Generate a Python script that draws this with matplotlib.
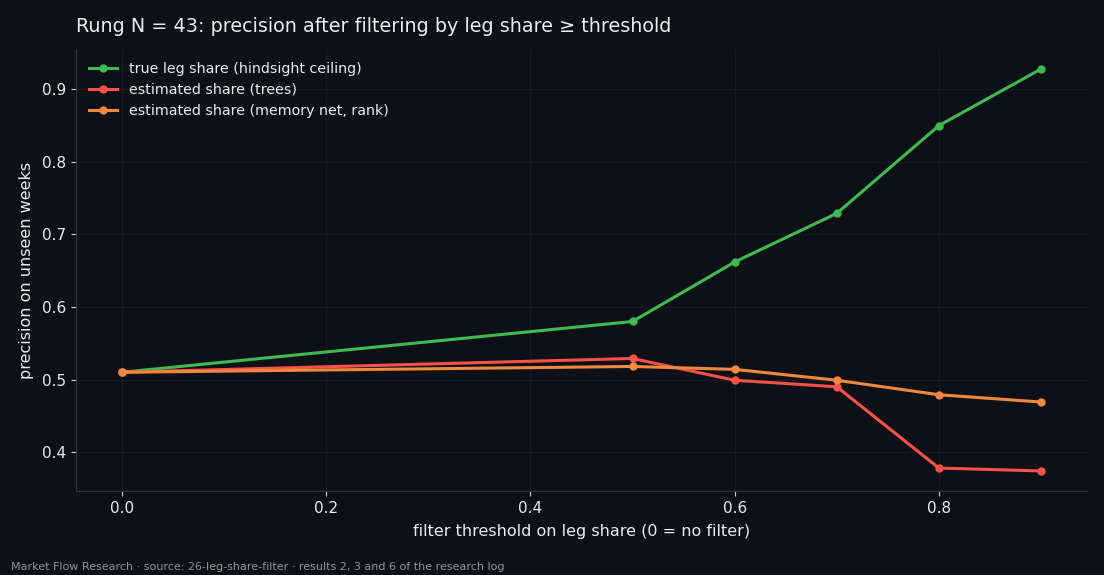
import matplotlib.pyplot as plt

# filter thresholds (0 = no filter)
thresholds = [0.0, 0.5, 0.6, 0.7, 0.8, 0.9]

# precision on unseen weeks per method
true_share = [0.510, 0.580, 0.662, 0.729, 0.850, 0.928]
trees_share = [0.510, 0.529, 0.499, 0.490, 0.378, 0.374]
memnet_share = [0.510, 0.518, 0.514, 0.499, 0.479, 0.469]

series = [
    ("true leg share (hindsight ceiling)", true_share, "#3fb950"),
    ("estimated share (trees)", trees_share, "#f85149"),
    ("estimated share (memory net, rank)", memnet_share, "#f0883e"),
]

BG = "#0d1117"
FG = "#e6edf3"

fig = plt.figure(figsize=(11.04, 5.75), dpi=100, facecolor=BG)
ax = fig.add_axes([0.0688, 0.146, 0.9158, 0.769])
ax.set_facecolor(BG)

for label, vals, color in series:
    ax.plot(thresholds, vals, color=color, lw=2.2, marker="o", ms=5, label=label)

ax.grid(True, color="#161b22", lw=0.8)
ax.set_axisbelow(True)
for side in ("top", "right"):
    ax.spines[side].set_visible(False)
for side in ("left", "bottom"):
    ax.spines[side].set_color("#30363d")
ax.tick_params(colors=FG, labelsize=11)
ax.tick_params(axis="both", color="#c9d1d9")

ax.set_xlabel("filter threshold on leg share (0 = no filter)", color=FG,
              fontsize=11.5, labelpad=6)
ax.set_ylabel("precision on unseen weeks", color=FG, fontsize=11.5, labelpad=6)
ax.set_title("Rung N = 43: precision after filtering by leg share \u2265 threshold",
             color=FG, fontsize=13.8, loc="left", pad=12)

leg = ax.legend(loc="upper left", frameon=False, fontsize=10.3, labelcolor=FG,
                labelspacing=0.5)

fig.text(0.01, 0.008, "Market Flow Research \u00b7 source: 26-leg-share-filter \u00b7 results 2, 3 and 6 of the research log",
         color="#8b949e", fontsize=8)

fig.savefig("out.png", facecolor=BG)
